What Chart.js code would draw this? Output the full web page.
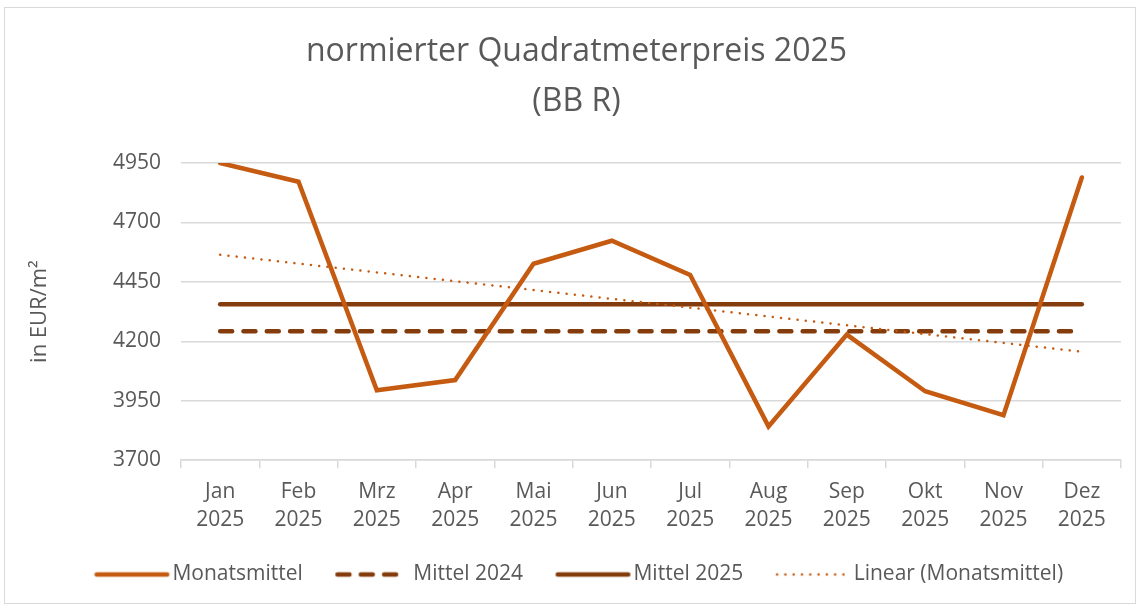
<!DOCTYPE html>
<html>
<head>
<meta charset="utf-8">
<script src="https://cdn.jsdelivr.net/npm/chart.js@4"></script>
<style>
  body { margin: 0; background: #fff; }
  #wrap { position: absolute; left: 0; top: 0; width: 1139px; height: 608px; }
  #frame { position: absolute; left: 4px; top: 7px; width: 1132px; height: 597px; border: 1px solid #d9d9d9; box-sizing: border-box; }
  canvas { position: absolute; left: 0; top: 0; }
</style>
</head>
<body>
<div id="wrap">
  <div id="frame"></div>
  <canvas id="chart" width="1139" height="608"></canvas>
</div>
<script>
// data
const months = ['Jan', 'Feb', 'Mrz', 'Apr', 'Mai', 'Jun', 'Jul', 'Aug', 'Sep', 'Okt', 'Nov', 'Dez'];
const year = '2025';
const monatsmittel = [4950, 4871, 3994, 4037, 4526, 4623, 4479, 3842, 4228, 3990, 3889, 4889];
const mittel2024 = [4242, 4242, 4242, 4242, 4242, 4242, 4242, 4242, 4242, 4242, 4242, 4242];
const mittel2025 = [4356, 4356, 4356, 4356, 4356, 4356, 4356, 4356, 4356, 4356, 4356, 4356];
// trend line: only the two ends are read, the line joins them
const linearTrend = [4564, null, null, null, null, null, null, null, null, null, null, 4156];
const yTicks = [3700, 3950, 4200, 4450, 4700, 4950];

const labelColor = '#595959';
const gridColor = '#d9d9d9';
const fontFamily = '"Open Sans", sans-serif';

// small canvas with a line sample, used as legend symbol
// (the line sits in the right part, just before the label text)
function lineSample(color, width, dash, len) {
  const c = document.createElement('canvas');
  c.width = 101;
  c.height = 10;
  const g = c.getContext('2d');
  const x0 = c.width - 3 - 75;
  g.strokeStyle = color;
  g.lineWidth = width;
  g.lineCap = 'round';
  g.setLineDash(dash);
  g.beginPath();
  g.moveTo(x0 + width / 2, 5);
  g.lineTo(x0 + len - width / 2, 5);
  g.stroke();
  return c;
}

// Excel places title and legend a bit off the centre
const shiftPlugin = {
  id: 'shift',
  afterLayout(chart) {
    chart.titleBlock.left += 11;
    chart.titleBlock.right += 11;
    chart.legend.left += 7;
    chart.legend.right += 7;
  }
};

const ctx = document.getElementById('chart').getContext('2d');

new Chart(ctx, {
  type: 'line',
  plugins: [shiftPlugin],
  data: {
    labels: months.map(m => [m, year]),
    datasets: [
      {
        label: 'Monatsmittel',
        data: monatsmittel,
        borderColor: '#c55a11',
        borderWidth: 4.5,
        pointRadius: 0,
        pointStyle: lineSample('#c55a11', 4.5, [], 75),
        borderCapStyle: 'round',
        order: 1
      },
      {
        label: 'Mittel 2024',
        data: mittel2024,
        borderColor: '#843c0c',
        borderWidth: 4.5,
        borderDash: [12, 11.3],
        borderCapStyle: 'round',
        pointRadius: 0,
        pointStyle: lineSample('#843c0c', 4.5, [12, 11.3], 65),
        order: 3
      },
      {
        label: 'Mittel 2025',
        data: mittel2025,
        borderColor: '#843c0c',
        borderWidth: 4.5,
        borderCapStyle: 'round',
        pointRadius: 0,
        pointStyle: lineSample('#843c0c', 4.5, [], 75),
        order: 2
      },
      {
        label: 'Linear (Monatsmittel)',
        data: linearTrend,
        borderColor: '#c55a11',
        borderWidth: 2.5,
        borderDash: [0.1, 8.2],
        borderCapStyle: 'round',
        pointRadius: 0,
        pointStyle: lineSample('#c55a11', 2.5, [0.1, 8.2], 73),
        spanGaps: true,
        order: 0
      }
    ]
  },
  options: {
    responsive: false,
    animation: false,
    layout: { padding: { left: 10, right: 18, top: 0, bottom: 13 } },
    plugins: {
      title: {
        display: true,
        text: ['normierter Quadratmeterpreis 2025', '(BB R)'],
        color: labelColor,
        font: { family: fontFamily, size: 32, weight: 'normal', lineHeight: 1.5625 },
        padding: { top: 27, bottom: 36 }
      },
      legend: {
        position: 'bottom',
        labels: {
          color: labelColor,
          font: { family: fontFamily, size: 21 },
          usePointStyle: true,
          pointStyleWidth: 80,
          padding: 20,
          sort: (a, b) => a.datasetIndex - b.datasetIndex
        }
      },
      tooltip: { enabled: false }
    },
    scales: {
      x: {
        offset: true,
        grid: {
          offset: true,
          drawOnChartArea: false,
          drawTicks: true,
          tickLength: 8,
          color: gridColor,
          lineWidth: 1.5
        },
        border: { color: gridColor, width: 1.5 },
        ticks: {
          color: labelColor,
          font: { family: fontFamily, size: 21, lineHeight: 1.33 },
          padding: 10,
          maxRotation: 0,
          autoSkip: false
        }
      },
      y: {
        min: 3700,
        max: 4950,
        afterBuildTicks: (scale) => { scale.ticks = yTicks.map(v => ({ value: v })); },
        afterFit: (scale) => { scale.width = 171; },
        grid: { color: gridColor, lineWidth: 1.5, drawTicks: false },
        border: { display: false },
        ticks: {
          color: labelColor,
          font: { family: fontFamily, size: 21 },
          padding: 20,
          callback: (v) => String(v)
        },
        title: {
          display: true,
          text: 'in EUR/m²',
          color: labelColor,
          font: { family: fontFamily, size: 22 },
          padding: { top: 17, bottom: 0 }
        }
      }
    }
  }
});
</script>
</body>
</html>
